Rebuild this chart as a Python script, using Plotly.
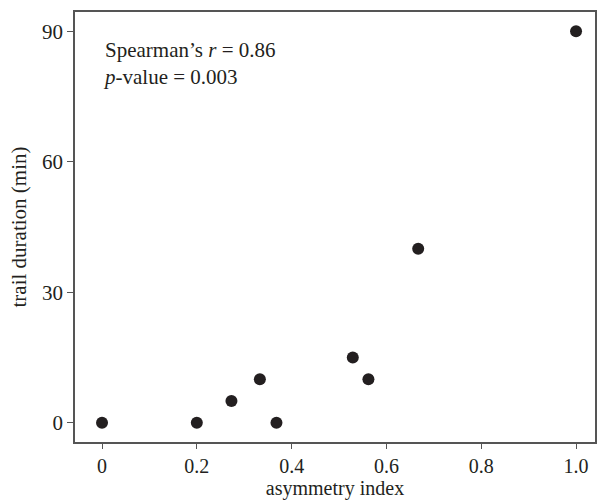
import plotly.graph_objects as go

asymmetry_index = [0.0, 0.2, 0.273, 0.333, 0.368, 0.529, 0.562, 0.667, 1.0]
trail_duration = [0, 0, 5, 10, 0, 15, 10, 40, 90]
x_ticks = [0, 0.2, 0.4, 0.6, 0.8, 1.0]
x_tick_labels = ["0", "0.2", "0.4", "0.6", "0.8", "1.0"]
y_ticks = [0, 30, 60, 90]

FONT = "Liberation Serif"
SPINE = "#555555"
FS = 21

fig = go.Figure(go.Scatter(
    x=asymmetry_index, y=trail_duration, mode="markers",
    marker=dict(size=12, color="#231f20", line=dict(width=0)),
    showlegend=False,
))

fig.update_layout(
    width=598, height=500,
    margin=dict(l=75, r=1, t=12, b=58),
    plot_bgcolor="white", paper_bgcolor="white",
    font=dict(family=FONT, size=FS, color="#231f20"),
)
fig.update_xaxes(
    range=[-0.057, 1.04], tickvals=x_ticks, ticktext=x_tick_labels,
    ticks="outside", ticklen=5, tickcolor=SPINE, showgrid=False, zeroline=False,
    showline=True, linecolor=SPINE, linewidth=1.5, mirror=True,
    tickfont=dict(family=FONT, size=20),
    title=dict(text="asymmetry index", font=dict(family=FONT, size=20), standoff=5),
)
fig.update_yaxes(
    range=[-4.4, 94.4], tickvals=y_ticks,
    ticks="outside", ticklen=6, tickcolor=SPINE, showgrid=False, zeroline=False,
    showline=True, linecolor=SPINE, linewidth=1.5, mirror=True,
    title=dict(text="trail duration (min)", font=dict(family=FONT, size=FS), standoff=10),
)
fig.add_annotation(
    x=0, y=1, xref="x domain", yref="y domain", xanchor="left", yanchor="top",
    xshift=26, yshift=-24, align="left", showarrow=False,
    text="Spearman\u2019s <i>r</i> = 0.86<br><i>p</i>-value = 0.003",
    font=dict(family=FONT, size=FS, color="#231f20"),
)
fig.write_html("out.html", config={"displayModeBar": False},
               post_script="document.body.style.margin='0';")
